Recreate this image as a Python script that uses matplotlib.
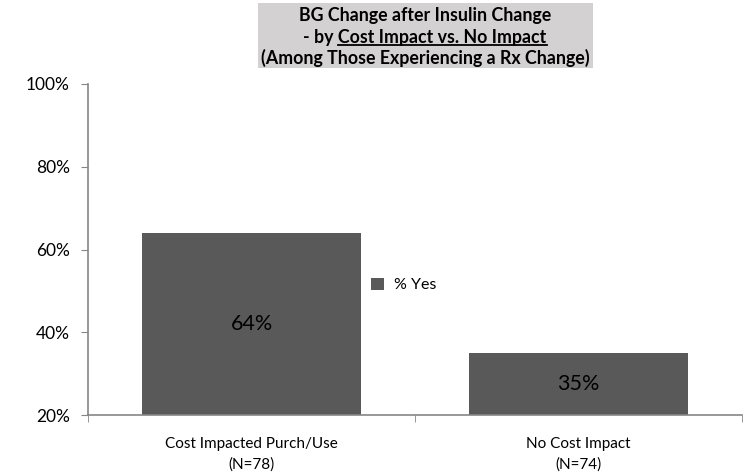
import numpy as np
import matplotlib.pyplot as plt
from matplotlib.patches import Rectangle
from matplotlib.lines import Line2D

plt.rcParams['font.family'] = ['Lato', 'DejaVu Sans']

categories = ["Cost Impacted Purch/Use\n(N=78)", "No Cost Impact\n(N=74)"]
values = [64, 35]
series_name = "% Yes"
yticks = [20, 40, 60, 80, 100]
title_lines = ["BG Change after Insulin Change", "- by ", "Cost Impact vs. No Impact",
               "(Among Those Experiencing a Rx Change)"]

bar_color = "#595959"
axis_color = "#868686"

W, H = 744, 475
fig = plt.figure(figsize=(W / 100, H / 100), dpi=100)
ax = fig.add_axes([88 / W, 1 - 415 / H, (742 - 88) / W, (415 - 84) / H])

x = np.arange(len(categories))
bars = ax.bar(x, values, width=0.67, color=bar_color, label=series_name, zorder=2)

ax.set_ylim(20, 100)
ax.set_xlim(-0.5, len(categories) - 0.5)
ax.set_yticks(yticks)
ax.set_yticklabels([f"{v}%" for v in yticks], fontsize=12.5)
ax.set_xticks(x)
ax.set_xticklabels(categories, fontsize=11, linespacing=1.55)
ax.set_xticks(np.arange(len(categories) + 1) - 0.5, minor=True)
ax.tick_params(axis='x', which='major', length=0, pad=16)
ax.tick_params(axis='x', which='minor', length=5, color=axis_color)
ax.tick_params(axis='y', length=5, color=axis_color, pad=8)

for s in ['top', 'right']:
    ax.spines[s].set_visible(False)
for s in ['left', 'bottom']:
    ax.spines[s].set_color(axis_color)
    ax.spines[s].set_linewidth(1.2)

# value labels in the middle of the visible part of each bar
for xi, v in zip(x, values):
    ax.text(xi, (v + 20) / 2, f"{v}%", ha='center', va='center', fontsize=15.5, color='black')

ax.legend(loc='center left', bbox_to_anchor=(357 / W, 1 - 285 / H), bbox_transform=fig.transFigure,
          frameon=False, fontsize=11.5, handlelength=0.8, handleheight=0.8, handletextpad=0.6)

# title box
fig.patches.append(Rectangle((258 / W, 1 - 68 / H), (593 - 258) / W, 65 / H,
                             transform=fig.transFigure, facecolor="#D3D1D1", edgecolor='none'))
cx = 425 / W
tkw = dict(ha='center', va='center', fontsize=12.8, fontweight='bold', color='black')
fig.text(cx, 1 - 15 / H, title_lines[0], **tkw)
t2 = fig.text(cx, 1 - 37 / H, title_lines[1] + title_lines[2], **tkw)
fig.text(cx, 1 - 58 / H, title_lines[3], **tkw)

# underline the second part of line 2
fig.canvas.draw()
r = fig.canvas.get_renderer()
full = t2.get_window_extent(r)
tmp = fig.text(0, 0, title_lines[1].replace(" ", "\u00a0"), **{k: v for k, v in tkw.items() if k not in ('ha', 'va')})
pre_w = tmp.get_window_extent(r).width
tmp.remove()
x0 = (full.x0 + pre_w) / W
x1 = full.x1 / W
yl = (full.y0 + 1) / H
fig.lines.append(Line2D([x0, x1], [yl, yl], transform=fig.transFigure, color='black', linewidth=1.3))

fig.savefig("out.png", dpi=100)
